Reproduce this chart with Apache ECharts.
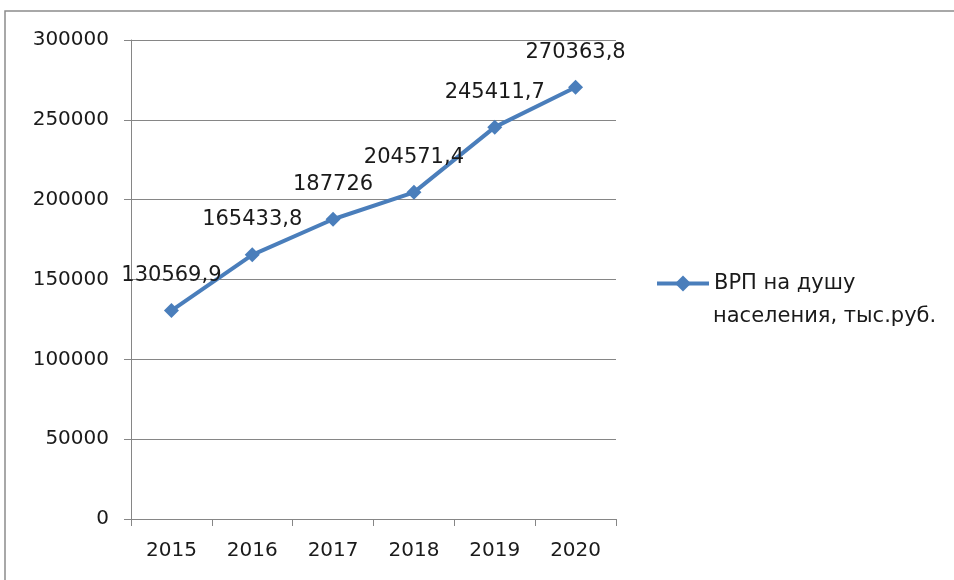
<!DOCTYPE html>
<html>
<head>
<meta charset="utf-8">
<script src="https://cdn.jsdelivr.net/npm/echarts@6/dist/echarts.min.js"></script>
<style>html,body{margin:0;padding:0;background:#fff}#c{width:954px;height:580px}</style>
</head>
<body>
<div id="c"></div>
<script>
const categories = ['2015', '2016', '2017', '2018', '2019', '2020'];
const values = [130569.9, 165433.8, 187726, 204571.4, 245411.7, 270363.8];
const seriesName = 'ВРП на душу населения, тыс.руб.';
const legendLine1 = 'ВРП на душу';
const legendLine2 = 'населения, тыс.руб.';
const yTicks = { min: 0, max: 300000, interval: 50000 };

const FONT = 'DejaVu Sans';
const BLUE = '#4a7ebb';
const chart = echarts.init(document.getElementById('c'));
chart.setOption({
  animation: false,
  backgroundColor: '#fff',
  textStyle: { fontFamily: FONT },
  graphic: [
    { type: 'rect', shape: { x: 5, y: 11, width: 1000, height: 700 }, style: { fill: 'none', stroke: '#8c8c8c', lineWidth: 1.5 }, silent: true },
    { type: 'text', left: 713, top: 306, style: { text: legendLine2, font: '21px "DejaVu Sans"', fill: '#1a1a1a' } }
  ],
  grid: { left: 131, right: 338, top: 40, bottom: 61 },
  legend: {
    left: 655, top: 273, padding: 0,
    itemWidth: 52, itemHeight: 20,
    lineStyle: { width: 4 },
    formatter: () => legendLine1,
    textStyle: { fontSize: 21, color: '#1a1a1a', fontFamily: FONT }
  },
  xAxis: {
    type: 'category', data: categories, boundaryGap: true,
    axisLine: { lineStyle: { color: '#868686', width: 1 } },
    axisTick: { show: true, length: 7, lineStyle: { color: '#868686' } },
    axisLabel: { color: '#1a1a1a', fontSize: 20, margin: 22, fontFamily: FONT }
  },
  yAxis: {
    type: 'value', min: yTicks.min, max: yTicks.max, interval: yTicks.interval,
    axisLine: { show: true, lineStyle: { color: '#868686', width: 1 } },
    axisTick: { show: true, length: 7, lineStyle: { color: '#868686' } },
    splitLine: { lineStyle: { color: '#868686', width: 1 } },
    axisLabel: { color: '#1a1a1a', fontSize: 20, margin: 22, fontFamily: FONT, formatter: v => String(v) }
  },
  series: [{
    name: seriesName, type: 'line', data: values,
    symbol: 'diamond', symbolSize: 15,
    lineStyle: { color: BLUE, width: 4 },
    itemStyle: { color: BLUE },
    label: {
      show: true, position: 'top', distance: 17,
      color: '#1a1a1a', fontSize: 21, fontFamily: FONT,
      formatter: p => String(p.value).replace('.', ',')
    }
  }]
});
</script>
</body>
</html>
